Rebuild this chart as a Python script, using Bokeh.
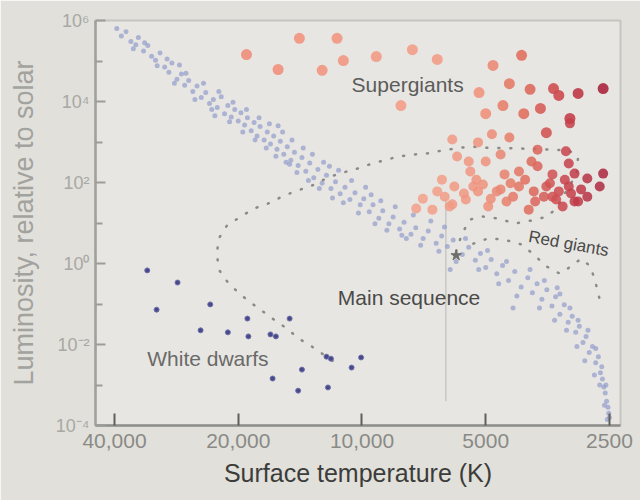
import math
from bokeh.plotting import figure
from bokeh.models import Range1d, FixedTicker
from bokeh.core.properties import value
from bokeh.embed import file_html
from bokeh.resources import INLINE

FONT = "Liberation Sans"

# ---------------- data (temperature in K, log10 of luminosity in solar units) -------------
ms_temp = [39500, 38500, 37500, 36500, 35500, 35000, 34000, 33200, 32500, 31800,
           31000, 30200, 29500, 29000, 28200, 27500, 27000, 26400, 25800, 25200,
           24600, 24000, 23500, 23000, 22500, 22000, 21600, 21200, 20800, 20400,
           20000, 19700, 19300, 19000, 18600, 18300, 18000, 17700, 17300, 17000,
           16700, 16400, 16100, 15800, 15500, 15200, 14900, 14600, 14300, 14000,
           13700, 13400, 13100, 12800, 12500, 12200, 11900, 11600, 11300, 11000,
           10700, 10400, 10100, 9900, 9600, 9400, 9100, 8900, 8600, 8400,
           8100, 7900, 7600, 7400, 7100, 6900, 6600, 6400, 6200, 6000,
           5700, 5500, 5300, 5150, 5000, 4850, 4700, 4550, 4400, 4250,
           4100, 3950, 3850, 3750, 3650, 3550, 3450, 3380, 3300, 3220,
           3150, 3080, 3020, 2960, 2900, 2850, 2800, 2750, 2700, 2660,
           2630, 2600, 2580, 2560, 2540, 2520, 2510, 2500,
           27800, 22800, 16000, 15000, 12000, 9500, 8000, 6100, 4290, 3300,
           36000, 33800, 31500, 29800, 28600, 26800, 25500, 24300, 23200, 22300,
           21000, 20600, 19500, 19100, 18200, 17800, 17100, 16800, 16200, 15600,
           15300, 14800, 14400, 13900, 13500, 13200, 12700, 12400, 11800, 11400,
           11100, 10600, 10200, 9800, 9300, 9000, 8700, 8300, 7800, 7500,
           7200, 6800, 6500, 6300, 5900, 5600, 5200, 4950, 4650, 4450,
           4200, 3900, 3700, 3600, 3400, 3350, 3180, 3120, 3000, 2980,
           2870, 2820, 2720, 2700, 2640, 2610, 2570, 2550, 2530]
ms_loglum = [5.80, 5.62, 5.72, 5.48, 5.40, 5.58, 5.25, 5.38, 5.12, 5.02,
             5.20, 4.85, 4.72, 4.95, 4.55, 4.68, 4.40, 4.52, 4.25, 4.38,
             4.10, 4.22, 3.95, 4.05, 3.85, 4.12, 3.70, 3.90, 3.62, 3.80,
             3.52, 3.72, 3.42, 3.60, 3.28, 3.48, 3.15, 3.38, 3.05, 3.25,
             2.95, 3.15, 2.82, 3.02, 2.70, 2.88, 2.55, 2.75, 2.42, 2.62,
             2.28, 2.48, 2.12, 2.32, 1.98, 2.18, 1.85, 2.02, 1.72, 1.88,
             1.58, 1.75, 1.45, 1.60, 1.28, 1.45, 1.12, 1.30, 0.98, 1.15,
             0.85, 1.02, 0.72, 0.88, 0.62, 0.80, 0.50, 0.68, 0.42, 0.58,
             0.22, 0.40, 0.08, 0.25, -0.10, 0.10, -0.25, -0.05, -0.42, -0.20,
             -0.58, -0.35, -0.72, -0.50, -0.88, -0.65, -1.05, -0.82, -1.25, -1.02,
             -1.45, -1.30, -1.70, -1.55, -1.95, -1.80, -2.20, -2.05, -2.45, -2.30,
             -2.70, -2.85, -3.05, -3.20, -3.40, -3.55, -3.70, -3.80,
             4.90, 3.65, 3.40, 2.45, 2.40, 1.70, 0.70, -0.15, -1.10, -0.75,
             5.30, 5.45, 4.88, 5.05, 4.45, 4.70, 4.05, 4.45, 3.80, 4.25,
             3.50, 3.98, 3.25, 3.80, 3.05, 3.60, 2.85, 3.45, 2.65, 3.25,
             2.50, 3.05, 2.25, 2.85, 2.05, 2.70, 1.85, 2.50, 1.62, 2.30,
             1.50, 2.05, 1.25, 1.88, 0.98, 1.55, 0.82, 1.40, 0.62, 1.20,
             0.45, 1.05, 0.30, 0.90, 0.05, 0.62, -0.15, 0.32, -0.50, 0.05,
             -0.80, -0.15, -1.10, -0.42, -1.40, -0.60, -1.65, -1.10, -2.05, -1.40,
             -2.40, -1.65, -2.75, -2.10, -3.00, -2.55, -3.50, -3.00, -3.85]

wd_temp = [33300, 28100, 31600, 23400, 24700, 21200, 19000, 18900, 16700, 16200,
           15000, 16500, 14000, 14300, 12200, 11900, 10600, 10050, 12100]
wd_loglum = [-0.17, -0.47, -1.14, -1.01, -1.65, -1.70, -1.36, -1.80, -1.75, -1.80,
             -1.36, -2.84, -2.62, -3.14, -2.30, -2.35, -2.57, -2.32, -3.06]

supergiant_temp = [19100, 16000, 14200, 12500, 11500, 11100, 9230, 7540, 6560, 8040,
                   4800, 4090, 4380, 5190, 3900, 3420, 3320, 2980, 2590, 4540,
                   5000, 4040, 3680, 3120, 3560]
supergiant_loglum = [5.16, 4.79, 5.56, 4.77, 5.56, 5.01, 5.11, 5.28, 5.04, 3.90,
                     4.89, 5.14, 4.44, 4.22, 4.30, 4.32, 4.15, 4.20, 4.32, 3.90,
                     3.70, 3.70, 3.83, 3.58, 3.23]

giant_temp = [6030, 5220, 4830, 4380, 3120, 5870, 4600, 3740, 3190, 6390,
              5450, 5960, 5080, 4500, 4010, 3740, 3440, 3210, 3040, 2830,
              2590, 7110, 7380, 6740, 6290, 6030, 5590, 5220, 4860, 4600,
              4290, 3820, 3560, 3320, 3100, 3040, 3930, 3370, 5360, 5650,
              4700, 4150, 4450, 3610, 3490, 2930, 3250, 2830, 6560, 2640,
              4150, 3140, 3870, 5000, 5500, 5270, 4350, 3790, 3440, 3140,
              2980, 4930, 6120]
giant_loglum = [3.06, 2.99, 3.19, 3.11, 3.46, 2.64, 2.69, 2.81, 2.77, 2.07,
                2.27, 1.90, 1.95, 2.20, 2.07, 2.40, 2.20, 2.07, 2.22, 2.10,
                2.22, 1.60, 1.36, 1.33, 1.65, 1.46, 1.58, 1.78, 1.60, 1.83,
                1.65, 1.78, 1.90, 1.78, 1.73, 1.53, 1.33, 1.58, 1.90, 1.73,
                1.78, 1.90, 1.53, 1.65, 1.98, 1.83, 1.41, 1.65, 1.78, 1.90,
                2.27, 2.47, 2.52, 2.52, 2.52, 2.07, 1.98, 1.53, 1.65, 1.90,
                1.53, 1.41, 1.41]

# evolutionary track of the Sun (dotted)
track_temp = [5900, 5710, 5450, 5080, 4670, 4240, 3870, 3540, 3370, 3210,
              3100, 3000, 2980, 3140, 3440, 4150, 5030, 5450, 6390, 6920,
              7500, 8170, 8890, 9630, 10420, 11400, 12380, 13380, 14400, 15660,
              16930, 18300, 19690, 21300, 22300, 22550, 22300, 21300, 20000, 18800,
              17560, 16400, 15260, 14260, 13240, 12200, 11460]
track_loglum = [0.30, 0.74, 1.09, 1.16, 1.11, 0.99, 1.06, 1.16, 1.36, 1.73,
                1.98, 2.27, 2.64, 2.79, 2.81, 2.84, 2.86, 2.89, 2.79, 2.72,
                2.69, 2.64, 2.54, 2.44, 2.32, 2.22, 2.07, 1.90, 1.80, 1.65,
                1.48, 1.36, 1.16, 0.94, 0.62, 0.25, -0.15, -0.44, -0.72, -0.94,
                -1.16, -1.38, -1.60, -1.85, -2.05, -2.30, -2.49]

track2_temp = [5360, 4930, 4510, 4090, 3820, 3560, 3300, 3100, 2930, 2780, 2700, 2640]
track2_loglum = [0.49, 0.62, 0.59, 0.47, 0.22, -0.07, -0.25, -0.07, 0.12, -0.07, -0.49, -0.89]

sun_temp = [5900]
sun_loglum = [0.20]

crease_temp = [6250, 6250]
crease_loglum = [1.6, -3.4]

label_text = ["Supergiants", "Red giants", "Main sequence", "White dwarfs"]
label_temp = [10600, 3930, 11450, 33300]
label_loglum = [4.42, 0.67, -0.84, -2.35]

x_ticks = [40000, 20000, 10000, 5000, 2500]
x_tick_labels = ["40,000", "20,000", "10,000", "5000", "2500"]
y_ticks = [1e-4, 1e-2, 1, 1e2, 1e4, 1e6]
y_minor_ticks = [1e-3, 1e-1, 10, 1e3, 1e5]
y_tick_labels = ["10⁻⁴", "10⁻²", "10⁰", "10²", "10⁴", "10⁶"]


def lum(vals):
    return [10 ** v for v in vals]


def red_color(t):
    stops = [(2550, (168, 36, 62)), (3200, (200, 66, 76)), (4000, (224, 110, 94)),
             (5000, (238, 145, 124)), (7000, (243, 160, 138)), (20000, (240, 140, 122))]
    lt = math.log(t)
    if t <= stops[0][0]:
        c = stops[0][1]
    elif t >= stops[-1][0]:
        c = stops[-1][1]
    else:
        for (t0, c0), (t1, c1) in zip(stops[:-1], stops[1:]):
            if t0 <= t <= t1:
                f = (lt - math.log(t0)) / (math.log(t1) - math.log(t0))
                c = tuple(int(round(a + (b - a) * f)) for a, b in zip(c0, c1))
                break
    return "#%02x%02x%02x" % c


# ---------------- figure -------------
p = figure(width=640, height=500, x_axis_type="log", y_axis_type="log",
           x_range=Range1d(44500, 2350), y_range=Range1d(1e-4, 1e6),
           output_backend="svg", toolbar_location=None,
           min_border_left=95, min_border_right=20, min_border_top=20, min_border_bottom=75)

p.grid.visible = False
p.background_fill_color = "#e7e6e2"
p.border_fill_color = "#e1e0db"
p.outline_line_color = "#c6c5c0"
p.outline_line_width = 2

# axes
p.yaxis.ticker = FixedTicker(ticks=y_ticks, minor_ticks=y_minor_ticks)
p.yaxis.major_label_overrides = dict(zip(y_ticks, y_tick_labels))
p.yaxis.axis_label = "Luminosity, relative to solar"
p.yaxis.axis_line_color = "#a0a09c"
p.yaxis.axis_line_width = 2.5
p.yaxis.major_tick_in = 10
p.yaxis.major_tick_out = 0
p.yaxis.minor_tick_in = 7
p.yaxis.minor_tick_out = 0
p.yaxis.major_tick_line_color = "#9c9c98"
p.yaxis.minor_tick_line_color = "#9c9c98"
p.yaxis.major_tick_line_width = 2
p.yaxis.minor_tick_line_width = 2
p.yaxis.major_label_text_font = FONT
p.yaxis.major_label_text_font_size = "18px"
p.yaxis.major_label_text_color = "#a8a8a4"
p.yaxis.major_label_standoff = 6
p.yaxis.axis_label_text_font = FONT
p.yaxis.axis_label_text_font_size = "27px"
p.yaxis.axis_label_text_font_style = "normal"
p.yaxis.axis_label_text_color = "#a2a29e"
p.yaxis.axis_label_standoff = 14

p.xaxis.ticker = FixedTicker(ticks=x_ticks, minor_ticks=[])
p.xaxis.major_label_overrides = dict(zip(x_ticks, x_tick_labels))
p.xaxis.axis_label = "Surface temperature (K)"
p.xaxis.axis_line_color = "#8e8e8a"
p.xaxis.axis_line_width = 2.5
p.xaxis.major_tick_in = 12
p.xaxis.major_tick_out = 0
p.xaxis.major_tick_line_color = "#5e5e5a"
p.xaxis.major_tick_line_width = 2
p.xaxis.major_label_text_font = FONT
p.xaxis.major_label_text_font_size = "21px"
p.xaxis.major_label_text_color = "#8a8a86"
p.xaxis.major_label_standoff = 8
p.xaxis.axis_label_text_font = FONT
p.xaxis.axis_label_text_font_size = "25px"
p.xaxis.axis_label_text_font_style = "normal"
p.xaxis.axis_label_text_color = "#3c3c3a"
p.xaxis.axis_label_standoff = 8

# faint vertical line
p.line(crease_temp, lum(crease_loglum), line_color="#b8b8b3", line_width=1)

# main sequence
p.scatter(ms_temp, lum(ms_loglum), size=5, fill_color="#939dcc", line_color=None, fill_alpha=0.7)

# evolutionary tracks
p.line(track_temp, lum(track_loglum), line_color="#8a8a88", line_width=2.5,
       line_dash="1 11", line_cap="round")
p.line(track2_temp, lum(track2_loglum), line_color="#8a8a88", line_width=2.5,
       line_dash="1 11", line_cap="round")

# red stars
p.scatter(supergiant_temp, lum(supergiant_loglum), size=11,
          fill_color=[red_color(t) for t in supergiant_temp], line_color=None, fill_alpha=0.9)
p.scatter(giant_temp, lum(giant_loglum), size=10,
          fill_color=[red_color(t) for t in giant_temp], line_color=None, fill_alpha=0.85)

# white dwarfs
p.scatter(wd_temp, lum(wd_loglum), size=5, fill_color="#3e4086", line_color="#7072aa",
          line_width=1, fill_alpha=0.95)

# the Sun
p.scatter(sun_temp, lum(sun_loglum), marker="star", size=11, fill_color="#6e6e6c", line_color="#6e6e6c")

# region labels
label_styles = [
    dict(text_font_size="21px", text_color="#5c5c5a", angle=0.0),
    dict(text_font_size="17px", text_color="#4a4a48", angle=-0.18),
    dict(text_font_size="21px", text_color="#4a4a48", angle=0.0),
    dict(text_font_size="21px", text_color="#6a6a68", angle=0.0),
]
for i, st in enumerate(label_styles):
    p.text(x=[label_temp[i]], y=[10 ** label_loglum[i]], text=[label_text[i]],
           text_font=value(FONT), text_align="left", text_baseline="middle", **st)

open("out.html", "w").write(file_html(p, INLINE))
